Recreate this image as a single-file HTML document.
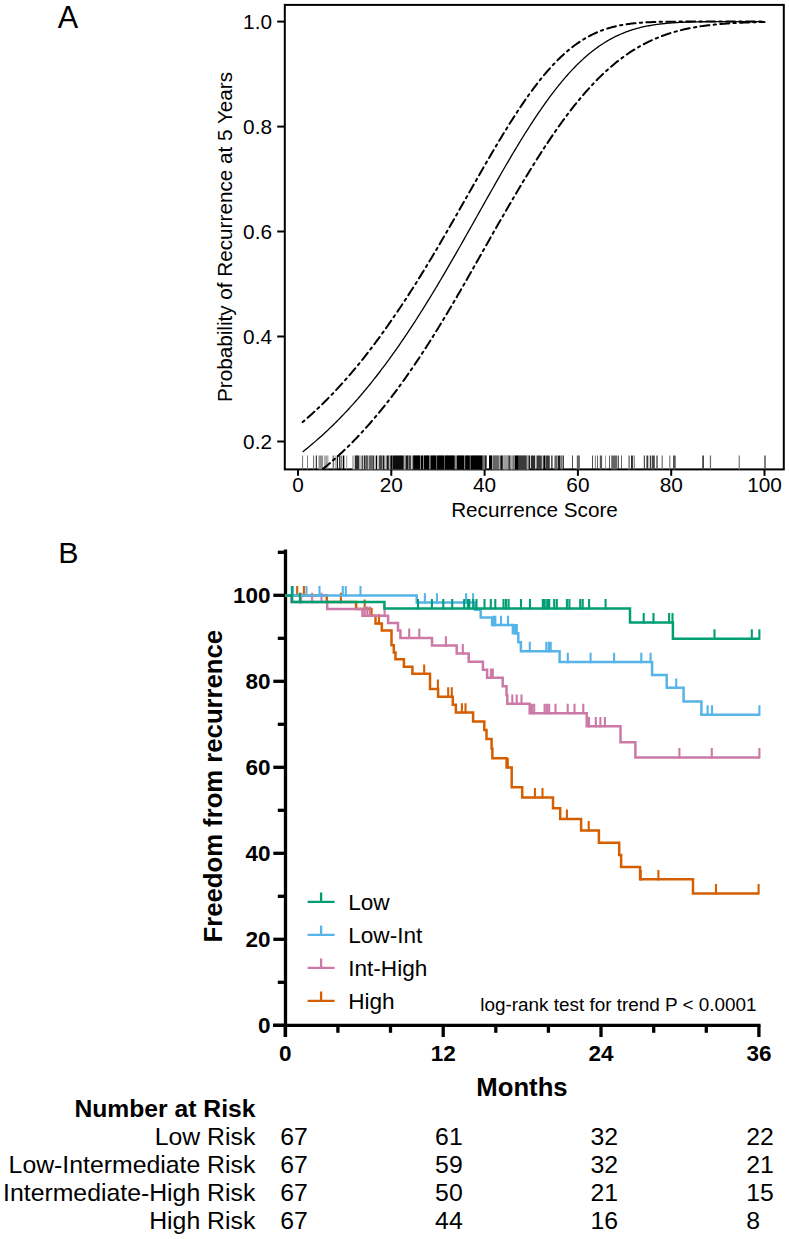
<!DOCTYPE html>
<html><head><meta charset="utf-8"><title>Figure</title>
<style>html,body{margin:0;padding:0;background:#fff;}svg{display:block;}svg text{font-family:"Liberation Sans",sans-serif;}</style></head>
<body><svg width="789" height="1239" viewBox="0 0 789 1239">
<rect width="789" height="1239" fill="#fff"/>
<text x="57.8" y="27.6" font-size="30.6" font-family="Liberation Sans, sans-serif">A</text>
<rect x="284.8" y="4.9" width="499.0" height="464.5" fill="none" stroke="#000" stroke-width="2"/>
<line x1="277.2" y1="21.6" x2="284.8" y2="21.6" stroke="#000" stroke-width="2"/>
<text x="272" y="29.0" font-size="20.8" text-anchor="end" font-family="Liberation Sans, sans-serif">1.0</text>
<line x1="277.2" y1="126.6" x2="284.8" y2="126.6" stroke="#000" stroke-width="2"/>
<text x="272" y="134.0" font-size="20.8" text-anchor="end" font-family="Liberation Sans, sans-serif">0.8</text>
<line x1="277.2" y1="231.5" x2="284.8" y2="231.5" stroke="#000" stroke-width="2"/>
<text x="272" y="238.9" font-size="20.8" text-anchor="end" font-family="Liberation Sans, sans-serif">0.6</text>
<line x1="277.2" y1="336.5" x2="284.8" y2="336.5" stroke="#000" stroke-width="2"/>
<text x="272" y="343.9" font-size="20.8" text-anchor="end" font-family="Liberation Sans, sans-serif">0.4</text>
<line x1="277.2" y1="441.5" x2="284.8" y2="441.5" stroke="#000" stroke-width="2"/>
<text x="272" y="448.9" font-size="20.8" text-anchor="end" font-family="Liberation Sans, sans-serif">0.2</text>
<line x1="298.0" y1="469.4" x2="298.0" y2="475.8" stroke="#000" stroke-width="2"/>
<text x="298.0" y="492" font-size="20.8" text-anchor="middle" font-family="Liberation Sans, sans-serif">0</text>
<line x1="391.3" y1="469.4" x2="391.3" y2="475.8" stroke="#000" stroke-width="2"/>
<text x="391.3" y="492" font-size="20.8" text-anchor="middle" font-family="Liberation Sans, sans-serif">20</text>
<line x1="484.6" y1="469.4" x2="484.6" y2="475.8" stroke="#000" stroke-width="2"/>
<text x="484.6" y="492" font-size="20.8" text-anchor="middle" font-family="Liberation Sans, sans-serif">40</text>
<line x1="577.9" y1="469.4" x2="577.9" y2="475.8" stroke="#000" stroke-width="2"/>
<text x="577.9" y="492" font-size="20.8" text-anchor="middle" font-family="Liberation Sans, sans-serif">60</text>
<line x1="671.2" y1="469.4" x2="671.2" y2="475.8" stroke="#000" stroke-width="2"/>
<text x="671.2" y="492" font-size="20.8" text-anchor="middle" font-family="Liberation Sans, sans-serif">80</text>
<line x1="764.5" y1="469.4" x2="764.5" y2="475.8" stroke="#000" stroke-width="2"/>
<text x="764.5" y="492" font-size="20.8" text-anchor="middle" font-family="Liberation Sans, sans-serif">100</text>
<text x="534.5" y="517" font-size="20.7" text-anchor="middle" font-family="Liberation Sans, sans-serif">Recurrence Score</text>
<text transform="translate(231.8 237) rotate(-90)" x="0" y="0" font-size="20.7" text-anchor="middle" font-family="Liberation Sans, sans-serif">Probability of Recurrence at 5 Years</text>
<clipPath id="ca"><rect x="284.8" y="4.9" width="499.0" height="464.5"/></clipPath>
<filter id="rb" x="-1%" y="-10%" width="102%" height="120%"><feGaussianBlur stdDeviation="0.45 0"/></filter>
<g filter="url(#rb)">
<rect x="353.0" y="455.5" width="59.0" height="13.9" fill="rgb(199,199,199)"/>
<rect x="412.0" y="455.5" width="75.0" height="13.9" fill="rgb(140,140,140)"/>
<rect x="489.0" y="455.5" width="41.0" height="13.9" fill="rgb(178,178,178)"/>
<rect x="302.1" y="455.5" width="1.0" height="13.9" fill="rgb(115,115,115)"/>
<rect x="307.0" y="455.5" width="1.0" height="13.9" fill="rgb(129,129,129)"/>
<rect x="313.1" y="455.5" width="1.0" height="13.9" fill="rgb(101,101,101)"/>
<rect x="315.8" y="455.5" width="1.0" height="13.9" fill="rgb(17,17,17)"/>
<rect x="318.5" y="455.5" width="4.6" height="13.9" fill="rgb(143,143,143)"/>
<rect x="324.5" y="455.5" width="1.0" height="13.9" fill="rgb(101,101,101)"/>
<rect x="326.4" y="455.5" width="1.0" height="13.9" fill="rgb(101,101,101)"/>
<rect x="327.6" y="455.5" width="0.8" height="13.9" fill="rgb(157,157,157)"/>
<rect x="332.6" y="455.5" width="1.5" height="13.9" fill="rgb(115,115,115)"/>
<rect x="335.5" y="455.5" width="1.0" height="13.9" fill="rgb(115,115,115)"/>
<rect x="337.0" y="455.5" width="1.0" height="13.9" fill="rgb(31,31,31)"/>
<rect x="339.2" y="455.5" width="1.2" height="13.9" fill="rgb(17,17,17)"/>
<rect x="341.2" y="455.5" width="1.0" height="13.9" fill="rgb(101,101,101)"/>
<rect x="342.9" y="455.5" width="1.4" height="13.9" fill="rgb(3,3,3)"/>
<rect x="346.2" y="455.5" width="1.0" height="13.9" fill="rgb(157,157,157)"/>
<rect x="352.3" y="455.5" width="1.0" height="13.9" fill="rgb(157,157,157)"/>
<rect x="355.0" y="455.5" width="4.2" height="13.9" fill="rgb(45,45,45)"/>
<rect x="361.8" y="455.5" width="0.8" height="13.9" fill="rgb(0,0,0)"/>
<rect x="364.1" y="455.5" width="0.8" height="13.9" fill="rgb(3,3,3)"/>
<rect x="365.3" y="455.5" width="2.6" height="13.9" fill="rgb(87,87,87)"/>
<rect x="368.0" y="455.5" width="0.6" height="13.9" fill="rgb(171,171,171)"/>
<rect x="369.0" y="455.5" width="3.9" height="13.9" fill="rgb(101,101,101)"/>
<rect x="373.3" y="455.5" width="0.7" height="13.9" fill="rgb(0,0,0)"/>
<rect x="375.9" y="455.5" width="1.1" height="13.9" fill="rgb(0,0,0)"/>
<rect x="379.0" y="455.5" width="3.4" height="13.9" fill="rgb(73,73,73)"/>
<rect x="383.1" y="455.5" width="1.2" height="13.9" fill="rgb(0,0,0)"/>
<rect x="386.6" y="455.5" width="2.2" height="13.9" fill="rgb(31,31,31)"/>
<rect x="389.2" y="455.5" width="0.8" height="13.9" fill="rgb(171,171,171)"/>
<rect x="390.4" y="455.5" width="1.9" height="13.9" fill="rgb(0,0,0)"/>
<rect x="392.6" y="455.5" width="11.1" height="13.9" fill="rgb(17,17,17)"/>
<rect x="404.0" y="455.5" width="1.2" height="13.9" fill="rgb(171,171,171)"/>
<rect x="405.6" y="455.5" width="2.6" height="13.9" fill="rgb(31,31,31)"/>
<rect x="408.6" y="455.5" width="2.3" height="13.9" fill="rgb(59,59,59)"/>
<rect x="413.2" y="455.5" width="6.8" height="13.9" fill="rgb(3,3,3)"/>
<rect x="421.0" y="455.5" width="2.0" height="13.9" fill="rgb(3,3,3)"/>
<rect x="424.0" y="455.5" width="5.1" height="13.9" fill="rgb(3,3,3)"/>
<rect x="430.6" y="455.5" width="5.7" height="13.9" fill="rgb(3,3,3)"/>
<rect x="437.1" y="455.5" width="7.2" height="13.9" fill="rgb(3,3,3)"/>
<rect x="445.0" y="455.5" width="9.6" height="13.9" fill="rgb(3,3,3)"/>
<rect x="456.9" y="455.5" width="7.2" height="13.9" fill="rgb(3,3,3)"/>
<rect x="465.2" y="455.5" width="4.6" height="13.9" fill="rgb(3,3,3)"/>
<rect x="470.6" y="455.5" width="11.9" height="13.9" fill="rgb(3,3,3)"/>
<rect x="482.9" y="455.5" width="1.9" height="13.9" fill="rgb(115,115,115)"/>
<rect x="485.2" y="455.5" width="1.1" height="13.9" fill="rgb(0,0,0)"/>
<rect x="489.0" y="455.5" width="3.0" height="13.9" fill="rgb(0,0,0)"/>
<rect x="492.8" y="455.5" width="6.1" height="13.9" fill="rgb(101,101,101)"/>
<rect x="499.3" y="455.5" width="0.7" height="13.9" fill="rgb(171,171,171)"/>
<rect x="500.4" y="455.5" width="2.3" height="13.9" fill="rgb(17,17,17)"/>
<rect x="503.5" y="455.5" width="4.5" height="13.9" fill="rgb(157,157,157)"/>
<rect x="508.4" y="455.5" width="1.9" height="13.9" fill="rgb(59,59,59)"/>
<rect x="511.1" y="455.5" width="1.1" height="13.9" fill="rgb(171,171,171)"/>
<rect x="512.6" y="455.5" width="1.9" height="13.9" fill="rgb(115,115,115)"/>
<rect x="514.9" y="455.5" width="3.8" height="13.9" fill="rgb(0,0,0)"/>
<rect x="519.0" y="455.5" width="7.7" height="13.9" fill="rgb(59,59,59)"/>
<rect x="527.0" y="455.5" width="1.2" height="13.9" fill="rgb(171,171,171)"/>
<rect x="528.6" y="455.5" width="1.4" height="13.9" fill="rgb(31,31,31)"/>
<rect x="530.8" y="455.5" width="4.2" height="13.9" fill="rgb(45,45,45)"/>
<rect x="535.4" y="455.5" width="0.7" height="13.9" fill="rgb(171,171,171)"/>
<rect x="536.5" y="455.5" width="5.3" height="13.9" fill="rgb(59,59,59)"/>
<rect x="542.2" y="455.5" width="0.8" height="13.9" fill="rgb(171,171,171)"/>
<rect x="543.3" y="455.5" width="2.0" height="13.9" fill="rgb(0,0,0)"/>
<rect x="545.6" y="455.5" width="4.2" height="13.9" fill="rgb(59,59,59)"/>
<rect x="551.3" y="455.5" width="1.2" height="13.9" fill="rgb(17,17,17)"/>
<rect x="554.4" y="455.5" width="3.0" height="13.9" fill="rgb(101,101,101)"/>
<rect x="557.8" y="455.5" width="2.7" height="13.9" fill="rgb(31,31,31)"/>
<rect x="560.8" y="455.5" width="1.9" height="13.9" fill="rgb(115,115,115)"/>
<rect x="563.1" y="455.5" width="0.8" height="13.9" fill="rgb(17,17,17)"/>
<rect x="572.2" y="455.5" width="0.8" height="13.9" fill="rgb(31,31,31)"/>
<rect x="576.8" y="455.5" width="3.1" height="13.9" fill="rgb(101,101,101)"/>
<rect x="592.2" y="455.5" width="0.8" height="13.9" fill="rgb(31,31,31)"/>
<rect x="594.9" y="455.5" width="0.7" height="13.9" fill="rgb(59,59,59)"/>
<rect x="597.2" y="455.5" width="0.8" height="13.9" fill="rgb(59,59,59)"/>
<rect x="599.8" y="455.5" width="2.3" height="13.9" fill="rgb(87,87,87)"/>
<rect x="605.2" y="455.5" width="0.7" height="13.9" fill="rgb(115,115,115)"/>
<rect x="609.0" y="455.5" width="0.7" height="13.9" fill="rgb(31,31,31)"/>
<rect x="611.2" y="455.5" width="5.8" height="13.9" fill="rgb(101,101,101)"/>
<rect x="617.7" y="455.5" width="1.1" height="13.9" fill="rgb(45,45,45)"/>
<rect x="621.1" y="455.5" width="0.8" height="13.9" fill="rgb(59,59,59)"/>
<rect x="628.3" y="455.5" width="1.6" height="13.9" fill="rgb(129,129,129)"/>
<rect x="631.0" y="455.5" width="1.9" height="13.9" fill="rgb(45,45,45)"/>
<rect x="633.7" y="455.5" width="1.1" height="13.9" fill="rgb(115,115,115)"/>
<rect x="643.8" y="455.5" width="1.1" height="13.9" fill="rgb(59,59,59)"/>
<rect x="646.4" y="455.5" width="1.9" height="13.9" fill="rgb(59,59,59)"/>
<rect x="649.8" y="455.5" width="1.2" height="13.9" fill="rgb(59,59,59)"/>
<rect x="651.7" y="455.5" width="3.1" height="13.9" fill="rgb(73,73,73)"/>
<rect x="656.3" y="455.5" width="1.5" height="13.9" fill="rgb(87,87,87)"/>
<rect x="661.6" y="455.5" width="1.2" height="13.9" fill="rgb(115,115,115)"/>
<rect x="669.2" y="455.5" width="1.2" height="13.9" fill="rgb(129,129,129)"/>
<rect x="673.0" y="455.5" width="2.7" height="13.9" fill="rgb(87,87,87)"/>
<rect x="702.2" y="455.5" width="1.8" height="13.9" fill="rgb(73,73,73)"/>
<rect x="709.8" y="455.5" width="1.3" height="13.9" fill="rgb(115,115,115)"/>
<rect x="738.6" y="455.5" width="1.3" height="13.9" fill="rgb(129,129,129)"/>
<rect x="764.3" y="455.5" width="1.4" height="13.9" fill="rgb(73,73,73)"/>
</g>
<g clip-path="url(#ca)" fill="none" stroke="#000">
<path d="M302.67,451.90 L303.82,450.99 L304.98,450.06 L306.14,449.13 L307.29,448.19 L308.45,447.24 L309.61,446.29 L310.77,445.32 L311.92,444.35 L313.08,443.37 L314.24,442.38 L315.40,441.38 L316.55,440.38 L317.71,439.36 L318.87,438.34 L320.03,437.31 L321.18,436.27 L322.34,435.22 L323.50,434.17 L324.66,433.10 L325.81,432.03 L326.97,430.95 L328.13,429.86 L329.29,428.76 L330.44,427.65 L331.60,426.53 L332.76,425.41 L333.92,424.27 L335.07,423.13 L336.23,421.97 L337.39,420.81 L338.55,419.64 L339.70,418.46 L340.86,417.27 L342.02,416.07 L343.18,414.87 L344.33,413.65 L345.49,412.42 L346.65,411.19 L347.81,409.94 L348.96,408.69 L350.12,407.43 L351.28,406.15 L352.44,404.87 L353.59,403.58 L354.75,402.28 L355.91,400.97 L357.07,399.65 L358.22,398.32 L359.38,396.98 L360.54,395.63 L361.70,394.28 L362.85,392.91 L364.01,391.53 L365.17,390.15 L366.33,388.75 L367.48,387.34 L368.64,385.93 L369.80,384.50 L370.96,383.07 L372.11,381.63 L373.27,380.17 L374.43,378.71 L375.59,377.23 L376.74,375.75 L377.90,374.26 L379.06,372.76 L380.22,371.25 L381.37,369.72 L382.53,368.19 L383.69,366.65 L384.85,365.10 L386.00,363.54 L387.16,361.97 L388.32,360.40 L389.48,358.81 L390.63,357.21 L391.79,355.60 L392.95,353.99 L394.11,352.36 L395.26,350.72 L396.42,349.08 L397.58,347.43 L398.74,345.76 L399.89,344.09 L401.05,342.41 L402.21,340.72 L403.37,339.02 L404.52,337.31 L405.68,335.59 L406.84,333.86 L408.00,332.13 L409.15,330.38 L410.31,328.63 L411.47,326.87 L412.63,325.10 L413.78,323.32 L414.94,321.53 L416.10,319.74 L417.26,317.93 L418.41,316.12 L419.57,314.30 L420.73,312.47 L421.89,310.63 L423.04,308.79 L424.20,306.93 L425.36,305.07 L426.52,303.20 L427.67,301.33 L428.83,299.45 L429.99,297.55 L431.15,295.66 L432.30,293.75 L433.46,291.84 L434.62,289.92 L435.78,288.00 L436.93,286.06 L438.09,284.13 L439.25,282.18 L440.41,280.23 L441.56,278.27 L442.72,276.31 L443.88,274.34 L445.04,272.36 L446.19,270.38 L447.35,268.40 L448.51,266.41 L449.67,264.41 L450.82,262.41 L451.98,260.41 L453.14,258.40 L454.30,256.38 L455.45,254.36 L456.61,252.34 L457.77,250.31 L458.92,248.28 L460.08,246.25 L461.24,244.21 L462.40,242.17 L463.55,240.13 L464.71,238.08 L465.87,236.04 L467.03,233.99 L468.18,231.93 L469.34,229.88 L470.50,227.82 L471.66,225.76 L472.81,223.71 L473.97,221.65 L475.13,219.59 L476.29,217.52 L477.44,215.46 L478.60,213.40 L479.76,211.34 L480.92,209.28 L482.07,207.22 L483.23,205.16 L484.39,203.10 L485.55,201.04 L486.70,198.99 L487.86,196.93 L489.02,194.88 L490.18,192.83 L491.33,190.79 L492.49,188.74 L493.65,186.70 L494.81,184.67 L495.96,182.63 L497.12,180.60 L498.28,178.58 L499.44,176.56 L500.59,174.54 L501.75,172.53 L502.91,170.53 L504.07,168.53 L505.22,166.53 L506.38,164.54 L507.54,162.56 L508.70,160.59 L509.85,158.62 L511.01,156.66 L512.17,154.70 L513.33,152.76 L514.48,150.82 L515.64,148.89 L516.80,146.97 L517.96,145.06 L519.11,143.15 L520.27,141.26 L521.43,139.38 L522.59,137.50 L523.74,135.64 L524.90,133.78 L526.06,131.94 L527.22,130.11 L528.37,128.29 L529.53,126.48 L530.69,124.68 L531.85,122.90 L533.00,121.12 L534.16,119.36 L535.32,117.62 L536.48,115.88 L537.63,114.16 L538.79,112.45 L539.95,110.76 L541.11,109.08 L542.26,107.41 L543.42,105.76 L544.58,104.12 L545.74,102.50 L546.89,100.89 L548.05,99.30 L549.21,97.72 L550.37,96.16 L551.52,94.61 L552.68,93.08 L553.84,91.57 L555.00,90.07 L556.15,88.59 L557.31,87.13 L558.47,85.68 L559.63,84.25 L560.78,82.83 L561.94,81.44 L563.10,80.06 L564.26,78.70 L565.41,77.35 L566.57,76.03 L567.73,74.72 L568.89,73.43 L570.04,72.16 L571.20,70.90 L572.36,69.67 L573.52,68.45 L574.67,67.25 L575.83,66.07 L576.99,64.91 L578.15,63.76 L579.30,62.63 L580.46,61.53 L581.62,60.44 L582.78,59.37 L583.93,58.31 L585.09,57.28 L586.25,56.27 L587.41,55.27 L588.56,54.29 L589.72,53.33 L590.88,52.39 L592.04,51.47 L593.19,50.56 L594.35,49.67 L595.51,48.80 L596.67,47.95 L597.82,47.12 L598.98,46.30 L600.14,45.51 L601.30,44.73 L602.45,43.96 L603.61,43.22 L604.77,42.49 L605.93,41.78 L607.08,41.09 L608.24,40.41 L609.40,39.75 L610.56,39.10 L611.71,38.48 L612.87,37.86 L614.03,37.27 L615.18,36.69 L616.34,36.12 L617.50,35.57 L618.66,35.04 L619.81,34.52 L620.97,34.02 L622.13,33.53 L623.29,33.05 L624.44,32.59 L625.60,32.14 L626.76,31.71 L627.92,31.29 L629.07,30.88 L630.23,30.49 L631.39,30.11 L632.55,29.74 L633.70,29.38 L634.86,29.04 L636.02,28.70 L637.18,28.38 L638.33,28.07 L639.49,27.77 L640.65,27.49 L641.81,27.21 L642.96,26.94 L644.12,26.68 L645.28,26.44 L646.44,26.20 L647.59,25.97 L648.75,25.75 L649.91,25.54 L651.07,25.34 L652.22,25.14 L653.38,24.96 L654.54,24.78 L655.70,24.61 L656.85,24.44 L658.01,24.29 L659.17,24.14 L660.33,24.00 L661.48,23.86 L662.64,23.73 L663.80,23.61 L664.96,23.49 L666.11,23.38 L667.27,23.27 L668.43,23.17 L669.59,23.08 L670.74,22.99 L671.90,22.90 L673.06,22.82 L674.22,22.74 L675.37,22.67 L676.53,22.60 L677.69,22.53 L678.85,22.47 L680.00,22.41 L681.16,22.35 L682.32,22.30 L683.48,22.25 L684.63,22.21 L685.79,22.16 L686.95,22.12 L688.11,22.08 L689.26,22.05 L690.42,22.01 L691.58,21.98 L692.74,21.95 L693.89,21.92 L695.05,21.90 L696.21,21.87 L697.37,21.85 L698.52,21.83 L699.68,21.81 L700.84,21.79 L702.00,21.77 L703.15,21.76 L704.31,21.74 L705.47,21.73 L706.63,21.72 L707.78,21.71 L708.94,21.70 L710.10,21.69 L711.26,21.68 L712.41,21.67 L713.57,21.66 L714.73,21.65 L715.89,21.65 L717.04,21.64 L718.20,21.63 L719.36,21.63 L720.52,21.62 L721.67,21.62 L722.83,21.62 L723.99,21.61 L725.15,21.61 L726.30,21.61 L727.46,21.60 L728.62,21.60 L729.78,21.60 L730.93,21.60 L732.09,21.60 L733.25,21.59 L734.41,21.59 L735.56,21.59 L736.72,21.59 L737.88,21.59 L739.04,21.59 L740.19,21.59 L741.35,21.59 L742.51,21.59 L743.67,21.58 L744.82,21.58 L745.98,21.58 L747.14,21.58 L748.30,21.58 L749.45,21.58 L750.61,21.58 L751.77,21.58 L752.93,21.58 L754.08,21.58 L755.24,21.58 L756.40,21.58 L757.56,21.58 L758.71,21.58 L759.87,21.58 L761.03,21.58 L762.19,21.58 L763.34,21.58 L764.50,21.58" stroke-width="1.3"/>
<path d="M302.67,422.11 L303.82,421.12 L304.98,420.12 L306.14,419.11 L307.29,418.09 L308.45,417.06 L309.61,416.03 L310.77,414.99 L311.92,413.94 L313.08,412.88 L314.24,411.81 L315.40,410.74 L316.55,409.65 L317.71,408.56 L318.87,407.46 L320.03,406.35 L321.18,405.24 L322.34,404.11 L323.50,402.98 L324.66,401.83 L325.81,400.68 L326.97,399.52 L328.13,398.35 L329.29,397.18 L330.44,395.99 L331.60,394.79 L332.76,393.59 L333.92,392.38 L335.07,391.15 L336.23,389.92 L337.39,388.68 L338.55,387.43 L339.70,386.17 L340.86,384.91 L342.02,383.63 L343.18,382.34 L344.33,381.05 L345.49,379.74 L346.65,378.43 L347.81,377.11 L348.96,375.78 L350.12,374.43 L351.28,373.08 L352.44,371.72 L353.59,370.35 L354.75,368.97 L355.91,367.58 L357.07,366.19 L358.22,364.78 L359.38,363.36 L360.54,361.93 L361.70,360.50 L362.85,359.05 L364.01,357.60 L365.17,356.13 L366.33,354.66 L367.48,353.17 L368.64,351.68 L369.80,350.17 L370.96,348.66 L372.11,347.14 L373.27,345.61 L374.43,344.06 L375.59,342.51 L376.74,340.95 L377.90,339.38 L379.06,337.80 L380.22,336.21 L381.37,334.61 L382.53,333.00 L383.69,331.38 L384.85,329.76 L386.00,328.12 L387.16,326.47 L388.32,324.82 L389.48,323.15 L390.63,321.48 L391.79,319.80 L392.95,318.13 L394.11,316.46 L395.26,314.77 L396.42,313.08 L397.58,311.37 L398.74,309.66 L399.89,307.94 L401.05,306.21 L402.21,304.47 L403.37,302.72 L404.52,300.97 L405.68,299.20 L406.84,297.43 L408.00,295.65 L409.15,293.86 L410.31,292.06 L411.47,290.25 L412.63,288.44 L413.78,286.62 L414.94,284.79 L416.10,282.95 L417.26,281.10 L418.41,279.25 L419.57,277.39 L420.73,275.52 L421.89,273.65 L423.04,271.77 L424.20,269.88 L425.36,267.98 L426.52,266.08 L427.67,264.17 L428.83,262.25 L429.99,260.33 L431.15,258.40 L432.30,256.46 L433.46,254.52 L434.62,252.57 L435.78,250.62 L436.93,248.66 L438.09,246.70 L439.25,244.73 L440.41,242.75 L441.56,240.78 L442.72,238.79 L443.88,236.80 L445.04,234.81 L446.19,232.81 L447.35,230.81 L448.51,228.80 L449.67,226.80 L450.82,224.78 L451.98,222.77 L453.14,220.75 L454.30,218.73 L455.45,216.70 L456.61,214.68 L457.77,212.65 L458.92,210.62 L460.08,208.58 L461.24,206.55 L462.40,204.52 L463.55,202.48 L464.71,200.44 L465.87,198.40 L467.03,196.37 L468.18,194.33 L469.34,192.29 L470.50,190.25 L471.66,188.22 L472.81,186.18 L473.97,184.15 L475.13,182.12 L476.29,180.08 L477.44,178.06 L478.60,176.03 L479.76,174.01 L480.92,171.99 L482.07,169.97 L483.23,167.96 L484.39,165.95 L485.55,163.94 L486.70,161.94 L487.86,159.94 L489.02,157.95 L490.18,155.97 L491.33,153.99 L492.49,152.01 L493.65,150.04 L494.81,148.08 L495.96,146.13 L497.12,144.18 L498.28,142.24 L499.44,140.31 L500.59,138.39 L501.75,136.48 L502.91,134.57 L504.07,132.67 L505.22,130.79 L506.38,128.91 L507.54,127.04 L508.70,125.19 L509.85,123.34 L511.01,121.51 L512.17,119.68 L513.33,117.87 L514.48,116.07 L515.64,114.29 L516.80,112.51 L517.96,110.75 L519.11,109.00 L520.27,107.27 L521.43,105.55 L522.59,103.84 L523.74,102.15 L524.90,100.47 L526.06,98.81 L527.22,97.16 L528.37,95.53 L529.53,93.91 L530.69,92.31 L531.85,90.73 L533.00,89.16 L534.16,87.61 L535.32,86.08 L536.48,84.57 L537.63,83.07 L538.79,81.59 L539.95,80.12 L541.11,78.68 L542.26,77.26 L543.42,75.85 L544.58,74.46 L545.74,73.09 L546.89,71.74 L548.05,70.41 L549.21,69.10 L550.37,67.80 L551.52,66.53 L552.68,65.28 L553.84,64.05 L555.00,62.83 L556.15,61.64 L557.31,60.47 L558.47,59.32 L559.63,58.18 L560.78,57.07 L561.94,55.98 L563.10,54.91 L564.26,53.86 L565.41,52.83 L566.57,51.82 L567.73,50.83 L568.89,49.86 L570.04,48.91 L571.20,47.99 L572.36,47.08 L573.52,46.19 L574.67,45.32 L575.83,44.48 L576.99,43.65 L578.15,42.84 L579.30,42.06 L580.46,41.29 L581.62,40.54 L582.78,39.81 L583.93,39.10 L585.09,38.41 L586.25,37.74 L587.41,37.09 L588.56,36.45 L589.72,35.84 L590.88,35.24 L592.04,34.66 L593.19,34.10 L594.35,33.55 L595.51,33.03 L596.67,32.51 L597.82,32.02 L598.98,31.54 L600.14,31.08 L601.30,30.63 L602.45,30.20 L603.61,29.79 L604.77,29.39 L605.93,29.00 L607.08,28.63 L608.24,28.28 L609.40,27.93 L610.56,27.60 L611.71,27.29 L612.87,26.98 L614.03,26.69 L615.18,26.41 L616.34,26.15 L617.50,25.89 L618.66,25.65 L619.81,25.41 L620.97,25.19 L622.13,24.98 L623.29,24.77 L624.44,24.58 L625.60,24.40 L626.76,24.22 L627.92,24.06 L629.07,23.90 L630.23,23.75 L631.39,23.61 L632.55,23.47 L633.70,23.35 L634.86,23.23 L636.02,23.12 L637.18,23.01 L638.33,22.91 L639.49,22.81 L640.65,22.72 L641.81,22.64 L642.96,22.56 L644.12,22.49 L645.28,22.42 L646.44,22.36 L647.59,22.29 L648.75,22.24 L649.91,22.19 L651.07,22.14 L652.22,22.09 L653.38,22.05 L654.54,22.01 L655.70,21.97 L656.85,21.94 L658.01,21.91 L659.17,21.88 L660.33,21.85 L661.48,21.83 L662.64,21.80 L663.80,21.78 L664.96,21.76 L666.11,21.75 L667.27,21.73 L668.43,21.72 L669.59,21.70 L670.74,21.69 L671.90,21.68 L673.06,21.67 L674.22,21.66 L675.37,21.65 L676.53,21.64 L677.69,21.64 L678.85,21.63 L680.00,21.62 L681.16,21.62 L682.32,21.62 L683.48,21.61 L684.63,21.61 L685.79,21.60 L686.95,21.60 L688.11,21.60 L689.26,21.60 L690.42,21.59 L691.58,21.59 L692.74,21.59 L693.89,21.59 L695.05,21.59 L696.21,21.59 L697.37,21.59 L698.52,21.59 L699.68,21.58 L700.84,21.58 L702.00,21.58 L703.15,21.58 L704.31,21.58 L705.47,21.58 L706.63,21.58 L707.78,21.58 L708.94,21.58 L710.10,21.58 L711.26,21.58 L712.41,21.58 L713.57,21.58 L714.73,21.58 L715.89,21.58 L717.04,21.58 L718.20,21.58 L719.36,21.58 L720.52,21.58 L721.67,21.58 L722.83,21.58 L723.99,21.58 L725.15,21.58 L726.30,21.58 L727.46,21.58 L728.62,21.58 L729.78,21.58 L730.93,21.58 L732.09,21.58 L733.25,21.58 L734.41,21.58 L735.56,21.58 L736.72,21.58 L737.88,21.58 L739.04,21.58 L740.19,21.58 L741.35,21.58 L742.51,21.58 L743.67,21.58 L744.82,21.58 L745.98,21.58 L747.14,21.58 L748.30,21.58 L749.45,21.58 L750.61,21.58 L751.77,21.58 L752.93,21.58 L754.08,21.58 L755.24,21.58 L756.40,21.58 L757.56,21.58 L758.71,21.58 L759.87,21.58 L761.03,21.58 L762.19,21.58 L763.34,21.58 L764.50,21.58" stroke-width="2.0" stroke-linecap="round" stroke-dasharray="2.3 4.3 9 4.3"/>
<path d="M306.08,481.41 L307.22,480.62 L308.35,479.82 L309.49,479.01 L310.63,478.20 L311.76,477.37 L312.90,476.54 L314.04,475.70 L315.17,474.86 L316.31,474.00 L317.45,473.13 L318.59,472.26 L319.72,471.38 L320.86,470.49 L322.00,469.59 L323.13,468.68 L324.27,467.77 L325.41,466.84 L326.54,465.91 L327.68,464.97 L328.82,464.02 L329.95,463.06 L331.09,462.09 L332.23,461.11 L333.36,460.13 L334.50,459.13 L335.64,458.12 L336.77,457.11 L337.91,456.09 L339.05,455.05 L340.18,454.01 L341.32,452.96 L342.46,451.90 L343.60,450.83 L344.73,449.75 L345.87,448.66 L347.01,447.57 L348.14,446.46 L349.28,445.34 L350.42,444.22 L351.55,443.08 L352.69,441.93 L353.83,440.78 L354.96,439.61 L356.10,438.44 L357.24,437.25 L358.37,436.06 L359.51,434.86 L360.65,433.64 L361.78,432.42 L362.92,431.18 L364.06,429.94 L365.19,428.69 L366.33,427.43 L367.47,426.15 L368.61,424.87 L369.74,423.58 L370.88,422.27 L372.02,420.96 L373.15,419.64 L374.29,418.31 L375.43,416.96 L376.56,415.61 L377.70,414.25 L378.84,412.88 L379.97,411.49 L381.11,410.10 L382.25,408.70 L383.38,407.29 L384.52,405.87 L385.66,404.43 L386.79,402.99 L387.93,401.54 L389.07,400.08 L390.20,398.61 L391.34,397.12 L392.48,395.63 L393.61,394.13 L394.75,392.62 L395.89,391.10 L397.03,389.57 L398.16,388.03 L399.30,386.48 L400.44,384.92 L401.57,383.35 L402.71,381.77 L403.85,380.19 L404.98,378.59 L406.12,376.98 L407.26,375.37 L408.39,373.74 L409.53,372.10 L410.67,370.46 L411.80,368.81 L412.94,367.15 L414.08,365.47 L415.21,363.79 L416.35,362.10 L417.49,360.41 L418.62,358.70 L419.76,356.98 L420.90,355.26 L422.04,353.53 L423.17,351.78 L424.31,350.03 L425.45,348.28 L426.58,346.51 L427.72,344.73 L428.86,342.95 L429.99,341.16 L431.13,339.36 L432.27,337.56 L433.40,335.74 L434.54,333.92 L435.68,332.09 L436.81,330.25 L437.95,328.41 L439.09,326.56 L440.22,324.70 L441.36,322.84 L442.50,320.96 L443.63,319.09 L444.77,317.20 L445.91,315.31 L447.05,313.41 L448.18,311.51 L449.32,309.60 L450.46,307.68 L451.59,305.76 L452.73,303.83 L453.87,301.90 L455.00,299.96 L456.14,298.02 L457.28,296.07 L458.41,294.12 L459.55,292.16 L460.69,290.20 L461.82,288.23 L462.96,286.26 L464.10,284.28 L465.23,282.30 L466.37,280.32 L467.51,278.33 L468.64,276.34 L469.78,274.35 L470.92,272.36 L472.05,270.36 L473.19,268.35 L474.33,266.35 L475.47,264.34 L476.60,262.33 L477.74,260.32 L478.88,258.31 L480.01,256.30 L481.15,254.28 L482.29,252.26 L483.42,250.25 L484.56,248.23 L485.70,246.21 L486.83,244.19 L487.97,242.17 L489.11,240.15 L490.24,238.13 L491.38,236.11 L492.52,234.09 L493.65,232.07 L494.81,230.05 L495.96,228.04 L497.12,226.02 L498.28,224.01 L499.44,222.00 L500.59,219.99 L501.75,217.99 L502.91,215.98 L504.07,213.98 L505.22,211.98 L506.38,209.99 L507.54,208.00 L508.70,206.01 L509.85,204.02 L511.01,202.04 L512.17,200.07 L513.33,198.10 L514.48,196.13 L515.64,194.17 L516.80,192.21 L517.96,190.26 L519.11,188.31 L520.27,186.37 L521.43,184.44 L522.59,182.51 L523.74,180.59 L524.90,178.67 L526.06,176.76 L527.22,174.86 L528.37,172.96 L529.53,171.08 L530.69,169.20 L531.85,167.33 L533.00,165.46 L534.16,163.61 L535.32,161.76 L536.48,159.92 L537.63,158.09 L538.79,156.27 L539.95,154.46 L541.11,152.66 L542.26,150.87 L543.42,149.08 L544.58,147.31 L545.74,145.55 L546.89,143.80 L548.05,142.05 L549.21,140.32 L550.37,138.60 L551.52,136.89 L552.68,135.19 L553.84,133.51 L555.00,131.83 L556.15,130.17 L557.31,128.52 L558.47,126.88 L559.63,125.25 L560.78,123.63 L561.94,122.03 L563.10,120.44 L564.26,118.86 L565.41,117.29 L566.57,115.74 L567.73,114.20 L568.89,112.67 L570.04,111.16 L571.20,109.66 L572.36,108.17 L573.52,106.70 L574.67,105.24 L575.83,103.80 L576.99,102.36 L578.15,100.95 L579.30,99.54 L580.46,98.15 L581.62,96.78 L582.78,95.42 L583.93,94.07 L585.09,92.74 L586.25,91.42 L587.41,90.11 L588.56,88.83 L589.72,87.55 L590.88,86.29 L592.04,85.05 L593.19,83.82 L594.35,82.60 L595.51,81.40 L596.67,80.21 L597.82,79.04 L598.98,77.88 L600.14,76.74 L601.30,75.62 L602.45,74.50 L603.61,73.41 L604.77,72.32 L605.93,71.26 L607.08,70.20 L608.24,69.16 L609.40,68.14 L610.56,67.13 L611.71,66.14 L612.87,65.16 L614.03,64.19 L615.18,63.24 L616.34,62.31 L617.50,61.38 L618.66,60.48 L619.81,59.58 L620.97,58.71 L622.13,57.84 L623.29,56.99 L624.44,56.15 L625.60,55.33 L626.76,54.52 L627.92,53.73 L629.07,52.95 L630.23,52.18 L631.39,51.43 L632.55,50.69 L633.70,49.96 L634.86,49.25 L636.02,48.55 L637.18,47.86 L638.33,47.18 L639.49,46.52 L640.65,45.87 L641.81,45.24 L642.96,44.61 L644.12,44.00 L645.28,43.40 L646.44,42.81 L647.59,42.24 L648.75,41.67 L649.91,41.12 L651.07,40.58 L652.22,40.05 L653.38,39.54 L654.54,39.03 L655.70,38.53 L656.85,38.05 L658.01,37.58 L659.17,37.11 L660.33,36.66 L661.48,36.22 L662.64,35.79 L663.80,35.36 L664.96,34.95 L666.11,34.55 L667.27,34.16 L668.43,33.77 L669.59,33.40 L670.74,33.03 L671.90,32.68 L673.06,32.33 L674.22,31.99 L675.37,31.66 L676.53,31.34 L677.69,31.03 L678.85,30.72 L680.00,30.43 L681.16,30.14 L682.32,29.86 L683.48,29.58 L684.63,29.32 L685.79,29.06 L686.95,28.81 L688.11,28.56 L689.26,28.32 L690.42,28.09 L691.58,27.87 L692.74,27.65 L693.89,27.44 L695.05,27.23 L696.21,27.03 L697.37,26.84 L698.52,26.65 L699.68,26.47 L700.84,26.29 L702.00,26.12 L703.15,25.95 L704.31,25.79 L705.47,25.64 L706.63,25.48 L707.78,25.34 L708.94,25.20 L710.10,25.06 L711.26,24.93 L712.41,24.80 L713.57,24.67 L714.73,24.55 L715.89,24.44 L717.04,24.33 L718.20,24.22 L719.36,24.11 L720.52,24.01 L721.67,23.92 L722.83,23.82 L723.99,23.73 L725.15,23.64 L726.30,23.56 L727.46,23.48 L728.62,23.40 L729.78,23.32 L730.93,23.25 L732.09,23.18 L733.25,23.11 L734.41,23.05 L735.56,22.98 L736.72,22.92 L737.88,22.87 L739.04,22.81 L740.19,22.76 L741.35,22.70 L742.51,22.65 L743.67,22.61 L744.82,22.56 L745.98,22.52 L747.14,22.47 L748.30,22.43 L749.45,22.40 L750.61,22.36 L751.77,22.32 L752.93,22.29 L754.08,22.26 L755.24,22.22 L756.40,22.19 L757.56,22.16 L758.71,22.14 L759.87,22.11 L761.03,22.09 L762.19,22.06 L763.34,22.04 L764.50,22.02" stroke-width="2.0" stroke-linecap="round" stroke-dasharray="2.3 4.3 9 4.3" stroke-dashoffset="5.5"/>
</g>
<text x="58.3" y="562.6" font-size="30.4" font-family="Liberation Sans, sans-serif">B</text>
<g stroke="#000" stroke-width="3.3" fill="none">
<line x1="285.5" y1="549.6" x2="285.5" y2="1037"/>
<line x1="273" y1="1025.3" x2="760.5" y2="1025.3"/>
<line x1="273.3" y1="1025.3" x2="285.5" y2="1025.3"/>
<line x1="277.8" y1="982.3" x2="285.5" y2="982.3"/>
<line x1="273.3" y1="939.3" x2="285.5" y2="939.3"/>
<line x1="277.8" y1="896.3" x2="285.5" y2="896.3"/>
<line x1="273.3" y1="853.3" x2="285.5" y2="853.3"/>
<line x1="277.8" y1="810.3" x2="285.5" y2="810.3"/>
<line x1="273.3" y1="767.3" x2="285.5" y2="767.3"/>
<line x1="277.8" y1="724.3" x2="285.5" y2="724.3"/>
<line x1="273.3" y1="681.3" x2="285.5" y2="681.3"/>
<line x1="277.8" y1="638.3" x2="285.5" y2="638.3"/>
<line x1="273.3" y1="595.3" x2="285.5" y2="595.3"/>
<line x1="277.8" y1="552.3" x2="285.5" y2="552.3"/>
<line x1="285.3" y1="1025.3" x2="285.3" y2="1037"/>
<line x1="337.9" y1="1025.3" x2="337.9" y2="1032.8"/>
<line x1="390.5" y1="1025.3" x2="390.5" y2="1032.8"/>
<line x1="443.2" y1="1025.3" x2="443.2" y2="1037"/>
<line x1="495.8" y1="1025.3" x2="495.8" y2="1032.8"/>
<line x1="548.4" y1="1025.3" x2="548.4" y2="1032.8"/>
<line x1="601.0" y1="1025.3" x2="601.0" y2="1037"/>
<line x1="653.7" y1="1025.3" x2="653.7" y2="1032.8"/>
<line x1="706.3" y1="1025.3" x2="706.3" y2="1032.8"/>
<line x1="758.9" y1="1025.3" x2="758.9" y2="1037"/>
</g>
<text x="270.5" y="1033.4" font-size="22.5" font-weight="bold" text-anchor="end" font-family="Liberation Sans, sans-serif">0</text>
<text x="270.5" y="947.4" font-size="22.5" font-weight="bold" text-anchor="end" font-family="Liberation Sans, sans-serif">20</text>
<text x="270.5" y="861.4" font-size="22.5" font-weight="bold" text-anchor="end" font-family="Liberation Sans, sans-serif">40</text>
<text x="270.5" y="775.4" font-size="22.5" font-weight="bold" text-anchor="end" font-family="Liberation Sans, sans-serif">60</text>
<text x="270.5" y="689.4" font-size="22.5" font-weight="bold" text-anchor="end" font-family="Liberation Sans, sans-serif">80</text>
<text x="270.5" y="603.4" font-size="22.5" font-weight="bold" text-anchor="end" font-family="Liberation Sans, sans-serif">100</text>
<text x="285.3" y="1061" font-size="22.5" font-weight="bold" text-anchor="middle" font-family="Liberation Sans, sans-serif">0</text>
<text x="443.2" y="1061" font-size="22.5" font-weight="bold" text-anchor="middle" font-family="Liberation Sans, sans-serif">12</text>
<text x="601.0" y="1061" font-size="22.5" font-weight="bold" text-anchor="middle" font-family="Liberation Sans, sans-serif">24</text>
<text x="758.9" y="1061" font-size="22.5" font-weight="bold" text-anchor="middle" font-family="Liberation Sans, sans-serif">36</text>
<text x="522" y="1095.5" font-size="25.7" font-weight="bold" text-anchor="middle" font-family="Liberation Sans, sans-serif">Months</text>
<text transform="translate(221.6 786.2) rotate(-90)" x="0" y="0" font-size="25.7" font-weight="bold" text-anchor="middle" font-family="Liberation Sans, sans-serif">Freedom from recurrence</text>
<g fill="none" stroke-width="2.5" stroke-linecap="butt" stroke-linejoin="miter">
<path d="M285.5,595.5 H326.8 V602.1 H356.1 V608.9 H371.4 V615.8 H375.5 V623.5 H381.8 V630.4 H391.5 V645.2 H393.8 V652.5 H395.5 V659.3 H403.9 V666.7 H412.4 V673.8 H430 V689 H438.1 V696.7 H452.8 V704.8 H455.9 V712.6 H473.1 V721.4 H484.3 V729.9 H486.5 V739 H491.6 V748.7 H492.4 V758.3 H506.6 V767.5 H511.7 V787.2 H522.2 V797.4 H553 V808.2 H560.2 V818.9 H581.1 V830.5 H598.9 V842.8 H619.2 V854.9 H621.1 V867.1 H640.1 V879.3 H693 V893.5 H758.6" stroke="#D55E00"/><path d=" M297.2,596.6 V586.1 M303.9,596.6 V586.1 M340.9,603.2 V592.7 M364.7,610.0 V599.5 M379,624.6 V614.1 M424.2,674.9 V664.4 M437.9,690.1 V679.6 M448.2,697.8 V687.3 M451.8,697.8 V687.3 M461.9,713.7 V703.2 M465.5,713.7 V703.2 M507.8,768.6 V758.1 M534.9,798.5 V788.0 M542.5,798.5 V788.0 M566.9,820.0 V809.5 M588.7,831.6 V821.1 M640.7,880.4 V869.9 M658.4,880.4 V869.9 M716,894.6 V884.1 M758.6,894.6 V884.1" stroke="#D55E00" stroke-width="2.1"/>
<path d="M285.5,595.5 H291.4 V602.1 H327.2 V608.9 H362.5 V615.8 H388.1 V622.9 H398 V630.5 H400.4 V637.9 H432 V645.6 H456.7 V653.4 H468.7 V661.7 H482.9 V669.8 H487.1 V677.8 H502.7 V686.3 H506.5 V694.9 H507.3 V703.8 H529.7 V713.2 H586.7 V726.3 H620.5 V742.2 H635.4 V757.5 H759.4" stroke="#CC79A7"/><path d=" M301.2,603.2 V592.7 M312.1,603.2 V592.7 M321.5,603.2 V592.7 M364.7,616.9 V606.4 M367.2,616.9 V606.4 M369.8,616.9 V606.4 M384.6,616.9 V606.4 M409.2,639.0 V628.5 M419.3,639.0 V628.5 M445.9,646.7 V636.2 M462.8,654.5 V644.0 M490.9,678.9 V668.4 M492.8,678.9 V668.4 M512.3,704.9 V694.4 M516.7,704.9 V694.4 M521.5,704.9 V694.4 M531.9,714.3 V703.8 M534.2,714.3 V703.8 M544.6,714.3 V703.8 M546.9,714.3 V703.8 M549.2,714.3 V703.8 M555.5,714.3 V703.8 M567.7,714.3 V703.8 M574.5,714.3 V703.8 M583.3,714.3 V703.8 M589,727.4 V716.9 M595.8,727.4 V716.9 M600.4,727.4 V716.9 M604.9,727.4 V716.9 M679.4,758.6 V748.1 M711.8,758.6 V748.1 M759.4,758.6 V748.1" stroke="#CC79A7" stroke-width="2.1"/>
<path d="M285.5,595.5 H416.7 V602.6 H475 V609.8 H480.7 V617.4 H492.1 V625.1 H512.9 V633.3 H518.3 V642.3 H520.9 V651.2 H559.6 V662.1 H652.1 V674.9 H666.7 V687.8 H683.6 V701.5 H701.4 V714.7 H759.4" stroke="#56B4E9"/><path d=" M293,596.6 V586.1 M306.5,596.6 V586.1 M319.5,596.6 V586.1 M342.8,596.6 V586.1 M345.8,596.6 V586.1 M360.5,596.6 V586.1 M424.9,603.7 V593.2 M437,603.7 V593.2 M466.1,603.7 V593.2 M473.1,603.7 V593.2 M493.4,626.2 V615.7 M495.3,626.2 V615.7 M501,626.2 V615.7 M508,626.2 V615.7 M514.9,634.4 V623.9 M516.8,634.4 V623.9 M529.8,652.3 V641.8 M546.3,652.3 V641.8 M548.8,652.3 V641.8 M550.7,652.3 V641.8 M567.8,663.2 V652.7 M590.6,663.2 V652.7 M614.1,663.2 V652.7 M641.3,663.2 V652.7 M650.6,663.2 V652.7 M676.2,688.9 V678.4 M707.6,715.8 V705.3 M712,715.8 V705.3 M759.4,715.8 V705.3" stroke="#56B4E9" stroke-width="2.1"/>
<path d="M285.5,595.5 H292.1 V602.1 H384.4 V608.5 H630.0 V622.5 H672.9 V638.7 H759.4" stroke="#009E73"/><path d=" M291.9,596.6 V586.1 M299.9,603.2 V592.7 M418,609.6 V599.1 M431.9,609.6 V599.1 M443.3,609.6 V599.1 M452.2,609.6 V599.1 M464.2,609.6 V599.1 M467.9,609.6 V599.1 M469.3,609.6 V599.1 M473.2,609.6 V599.1 M476.5,609.6 V599.1 M484.5,609.6 V599.1 M490.8,609.6 V599.1 M495.3,609.6 V599.1 M503.5,609.6 V599.1 M506,609.6 V599.1 M508.6,609.6 V599.1 M521,609.6 V599.1 M530,609.6 V599.1 M542.8,609.6 V599.1 M544.7,609.6 V599.1 M547.2,609.6 V599.1 M549.2,609.6 V599.1 M554.2,609.6 V599.1 M556.8,609.6 V599.1 M566.9,609.6 V599.1 M569.4,609.6 V599.1 M580.2,609.6 V599.1 M582.7,609.6 V599.1 M589.1,609.6 V599.1 M605.6,609.6 V599.1 M643.7,623.6 V613.1 M653.5,623.6 V613.1 M669.1,623.6 V613.1 M672.5,623.6 V613.1 M714.5,639.8 V629.3 M751.8,639.8 V629.3 M759.4,639.8 V629.3" stroke="#009E73" stroke-width="2.1"/>
</g>
<path d="M307.6,901.9 H334.6 M321.1,901.9 V892.4" stroke="#009E73" stroke-width="2.3" fill="none"/>
<text x="348.2" y="910.4" font-size="22.6" font-family="Liberation Sans, sans-serif">Low</text>
<path d="M307.6,934.9 H334.6 M321.1,934.9 V925.4" stroke="#56B4E9" stroke-width="2.3" fill="none"/>
<text x="348.2" y="943.4" font-size="22.6" font-family="Liberation Sans, sans-serif">Low-Int</text>
<path d="M307.6,967.9 H334.6 M321.1,967.9 V958.4" stroke="#CC79A7" stroke-width="2.3" fill="none"/>
<text x="348.2" y="976.4" font-size="22.6" font-family="Liberation Sans, sans-serif">Int-High</text>
<path d="M307.6,1000.9 H334.6 M321.1,1000.9 V991.4" stroke="#D55E00" stroke-width="2.3" fill="none"/>
<text x="348.2" y="1009.4" font-size="22.6" font-family="Liberation Sans, sans-serif">High</text>
<text x="756.6" y="1011.4" font-size="18.9" text-anchor="end" font-family="Liberation Sans, sans-serif">log-rank test for trend P &lt; 0.0001</text>
<text x="255.5" y="1117.4" font-size="24.7" font-weight="bold" text-anchor="end" font-family="Liberation Sans, sans-serif">Number at Risk</text>
<text x="255.3" y="1144.8" font-size="24.8" text-anchor="end" font-family="Liberation Sans, sans-serif">Low Risk</text>
<text x="280.3" y="1144.8" font-size="24.8" font-family="Liberation Sans, sans-serif">67</text>
<text x="435.1" y="1144.8" font-size="24.8" font-family="Liberation Sans, sans-serif">61</text>
<text x="590.4" y="1144.8" font-size="24.8" font-family="Liberation Sans, sans-serif">32</text>
<text x="746.3" y="1144.8" font-size="24.8" font-family="Liberation Sans, sans-serif">22</text>
<text x="255.3" y="1172.7" font-size="24.8" text-anchor="end" font-family="Liberation Sans, sans-serif">Low-Intermediate Risk</text>
<text x="280.3" y="1172.7" font-size="24.8" font-family="Liberation Sans, sans-serif">67</text>
<text x="435.1" y="1172.7" font-size="24.8" font-family="Liberation Sans, sans-serif">59</text>
<text x="590.4" y="1172.7" font-size="24.8" font-family="Liberation Sans, sans-serif">32</text>
<text x="746.3" y="1172.7" font-size="24.8" font-family="Liberation Sans, sans-serif">21</text>
<text x="255.3" y="1200.6" font-size="24.8" text-anchor="end" font-family="Liberation Sans, sans-serif">Intermediate-High Risk</text>
<text x="280.3" y="1200.6" font-size="24.8" font-family="Liberation Sans, sans-serif">67</text>
<text x="435.1" y="1200.6" font-size="24.8" font-family="Liberation Sans, sans-serif">50</text>
<text x="590.4" y="1200.6" font-size="24.8" font-family="Liberation Sans, sans-serif">21</text>
<text x="746.3" y="1200.6" font-size="24.8" font-family="Liberation Sans, sans-serif">15</text>
<text x="255.3" y="1228.5" font-size="24.8" text-anchor="end" font-family="Liberation Sans, sans-serif">High Risk</text>
<text x="280.3" y="1228.5" font-size="24.8" font-family="Liberation Sans, sans-serif">67</text>
<text x="435.1" y="1228.5" font-size="24.8" font-family="Liberation Sans, sans-serif">44</text>
<text x="590.4" y="1228.5" font-size="24.8" font-family="Liberation Sans, sans-serif">16</text>
<text x="746.3" y="1228.5" font-size="24.8" font-family="Liberation Sans, sans-serif">8</text>
</svg></body></html>
